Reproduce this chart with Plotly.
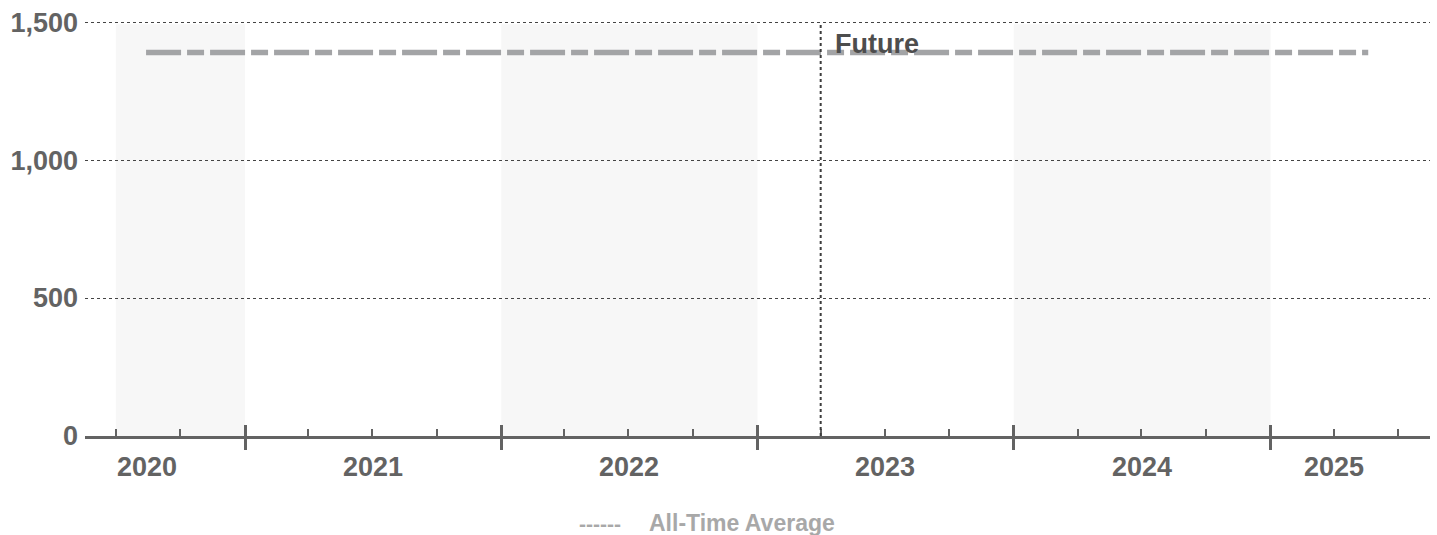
import plotly.graph_objects as go

# ---- data ----
avg_dates = ["2020-08-13", "2025-05-20"]
avg_values = [1390, 1390]
avg_name = "All-Time Average"

year_labels = ["2020", "2021", "2022", "2023", "2024", "2025"]
year_label_dates = ["2020-08-15", "2021-07-02", "2022-07-02", "2023-07-02", "2024-07-02", "2025-04-01"]

shade_starts = ["2020-07-01", "2022-01-01", "2024-01-01"]
shade_ends = ["2021-01-01", "2023-01-01", "2025-01-01"]

future_date = "2023-04-01"
x_range = ["2020-05-18", "2025-08-16"]
y_range = [0, 1504]
y_ticks = [0, 500, 1000, 1500]

FONT = "Liberation Sans, Arial, sans-serif"
AX = "#636363"

fig = go.Figure()

fig.add_trace(go.Scatter(
    x=avg_dates, y=avg_values, mode="lines", name=avg_name,
    line=dict(color="#a3a4a6", width=5.5, dash="35px,6px,17px,6px"),
    showlegend=False, hoverinfo="skip",
))
# invisible trace to drive the second (overlay) x axis
fig.add_trace(go.Scatter(x=x_range, y=[None, None], xaxis="x2", showlegend=False, hoverinfo="skip"))

shapes = []
for s, e in zip(shade_starts, shade_ends):
    shapes.append(dict(type="rect", xref="x", yref="y", x0=s, x1=e, y0=0, y1=1492,
                       fillcolor="#f7f7f7", line=dict(width=0), layer="below"))
shapes.append(dict(type="line", xref="x", yref="y", x0=future_date, x1=future_date, y0=0, y1=1500,
                   line=dict(color="#3c3c3c", width=2, dash="dot"), layer="above"))

annotations = []
for lab, d in zip(year_labels, year_label_dates):
    annotations.append(dict(x=d, xref="x", y=-0.075, yref="paper", text=lab, showarrow=False,
                            xanchor="center", yanchor="middle",
                            font=dict(family=FONT, size=27, color=AX, weight=700)))
annotations.append(dict(x=future_date, xref="x", y=1390, yref="y", text="Future", showarrow=False,
                        xanchor="left", yanchor="bottom", xshift=12, yshift=-9,
                        font=dict(family=FONT, size=27, color="#4d4d4d", weight=700)))
annotations.append(dict(x=0.366, xref="paper", y=-0.21, yref="paper", text="------", showarrow=False,
                        xanchor="left", yanchor="middle",
                        font=dict(family=FONT, size=21, color="#a8a8a8", weight=700)))
annotations.append(dict(x=0.4175, xref="paper", y=-0.21, yref="paper", text=avg_name, showarrow=False,
                        xanchor="left", yanchor="middle",
                        font=dict(family=FONT, size=23, color="#a8a8a8", weight=700)))

fig.update_layout(
    width=1437, height=535,
    margin=dict(l=85, r=7, t=21, b=99),
    plot_bgcolor="white", paper_bgcolor="white",
    shapes=shapes, annotations=annotations,
    showlegend=False,
    xaxis=dict(
        type="date", range=x_range, showgrid=False, zeroline=False,
        showline=True, linecolor=AX, linewidth=3,
        ticks="inside", ticklen=11, tickwidth=3, tickcolor=AX,
        tick0="2020-01-01", dtick="M12", showticklabels=False,
        minor=dict(ticks="inside", ticklen=7, tickwidth=1.5, tickcolor=AX, dtick="M3", tick0="2020-01-01", showgrid=False),
    ),
    xaxis2=dict(
        type="date", range=x_range, overlaying="x", side="bottom", anchor="y",
        showgrid=False, zeroline=False, showline=False,
        ticks="outside", ticklen=13, tickwidth=3, tickcolor=AX,
        tick0="2020-01-01", dtick="M12", showticklabels=False,
    ),
    yaxis=dict(
        range=y_range, tickvals=y_ticks, tickformat=",", showline=False, zeroline=False,
        showgrid=True, gridcolor="#444444", gridwidth=1, griddash="dot",
        ticks="", ticklabelstandoff=6,
        tickfont=dict(family=FONT, size=27, color=AX, weight=700),
    ),
)

fig.write_html("out.html")
